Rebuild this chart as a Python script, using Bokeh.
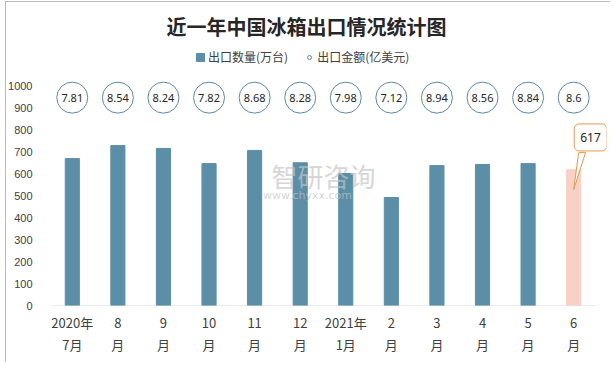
from bokeh.plotting import figure
from bokeh.models import ColumnDataSource, Range1d, FixedTicker, Label
from bokeh.core.properties import value
from bokeh.embed import file_html
from bokeh.resources import INLINE

# ---- data ----
months = ["2020年\n7月", "8\n月", "9\n月", "10\n月", "11\n月", "12\n月",
          "2021年\n1月", "2\n月", "3\n月", "4\n月", "5\n月", "6\n月"]
qty = [668, 727, 714, 645, 705, 649, 600, 491, 636, 641, 645, 617]          # 出口数量(万台)
amount = [7.81, 8.54, 8.24, 7.82, 8.68, 8.28, 7.98, 7.12, 8.94, 8.56, 8.84, 8.6]  # 出口金额(亿美元)
y_ticks = [0, 100, 200, 300, 400, 500, 600, 700, 800, 900, 1000]

BAR = "#5B8FA8"
HIGHLIGHT = "#F8D0C4"
CIRCLE_ROW = 945      # height of the amount bubbles on the quantity scale
FONT = "Noto Sans CJK SC"

W, H = 605, 361
n = len(qty)
xs = list(range(n))
src = ColumnDataSource(dict(
    x=xs,
    qty=qty,
    color=[BAR] * (n - 1) + [HIGHLIGHT],
    lvl=[CIRCLE_ROW] * n,
    amt=[str(a) for a in amount],
))

p = figure(width=W, height=H, output_backend="svg", toolbar_location=None,
           x_range=Range1d(-0.5, n - 0.28), y_range=Range1d(0, 1182),
           min_border_left=44, min_border_right=4, min_border_bottom=57,
           min_border_top=44, title="近一年中国冰箱出口情况统计图")
p.styles = {"position": "relative", "left": "5px", "top": "1px",
            "outline": "1px solid #a6a6a6", "outline-offset": "-1px"}
p.outline_line_color = None
p.xgrid.visible = False
p.ygrid.visible = False
p.background_fill_color = "white"
p.border_fill_color = "white"

p.title.align = "left"
p.title.offset = 117
p.title.text_font = FONT
p.title.text_font_size = "20px"
p.title.text_font_style = "bold"
p.title.text_color = "#262626"

# watermark
p.add_layout(Label(x=5.51, y=591, text="智研咨询", text_font=FONT, text_font_size="26px",
                   text_color="#c4c4c4", text_alpha=0.7, text_align="center",
                   text_baseline="middle"))
p.add_layout(Label(x=5.16, y=500, text="www.chyxx.com", text_font="DejaVu Sans",
                   text_font_size="11px", text_color="#c4c4c4", text_alpha=0.7,
                   text_align="center", text_baseline="middle"))

# baseline (category axis line)
p.segment(x0=[-0.5], y0=[0], x1=[n - 0.5], y1=[0], line_color="#d9d9d9", line_width=1)

p.vbar(x="x", top="qty", width=0.31, color="color", source=src,
       legend_label="出口数量(万台)")
p.scatter(x="x", y="lvl", size=31, fill_color="white", line_color="#5A8AA2",
          line_width=1, source=src, legend_label="出口金额(亿美元)")
p.text(x="x", y="lvl", text="amt", source=src, text_align="center",
       text_baseline="middle", text_font=value("Noto Sans"),
       text_font_size="11px", text_color="#262626")

# callout for last bar
xi = n - 1
last = qty[-1]
p.patch([xi + 0.11, xi + 0.26, xi], [last + 78, last + 78, last - 90],
        fill_color="white", line_color="#E59A4A", line_width=1)
p.add_layout(Label(x=xi + 0.37, y=last + 147, text=str(last), text_align="center",
                   text_baseline="middle", text_font="Noto Sans", text_font_size="12px",
                   text_color="#262626", background_fill_color="white",
                   border_line_color="#E59A4A", border_line_width=1,
                   padding=(6, 9), border_radius=5))

# axes
yax = p.yaxis[0]
yax.ticker = FixedTicker(ticks=y_ticks)
yax.axis_line_color = None
yax.major_tick_line_color = None
yax.minor_tick_line_color = None
yax.major_label_text_font = "Liberation Sans"
yax.major_label_text_font_size = "11px"
yax.major_label_text_color = "#404040"
yax.major_label_standoff = 11

xax = p.xaxis[0]
xax.ticker = FixedTicker(ticks=xs)
xax.major_label_overrides = {i: m for i, m in enumerate(months)}
xax.axis_line_color = None
xax.major_tick_line_color = None
xax.minor_tick_line_color = None
xax.major_label_text_font = FONT
xax.major_label_text_font_size = "13px"
xax.major_label_text_color = "#404040"
xax.major_label_standoff = 1

lg = p.legend[0]
lg.location = (146, 240)
lg.orientation = "horizontal"
lg.border_line_color = None
lg.background_fill_alpha = 0
lg.label_text_font = FONT
lg.label_text_font_size = "12px"
lg.label_text_color = "#404040"
lg.glyph_width = 10
lg.glyph_height = 10
lg.spacing = 16
lg.margin = 0
lg.padding = 2
lg.label_standoff = 3

open("out.html", "w").write(file_html(p, INLINE))
